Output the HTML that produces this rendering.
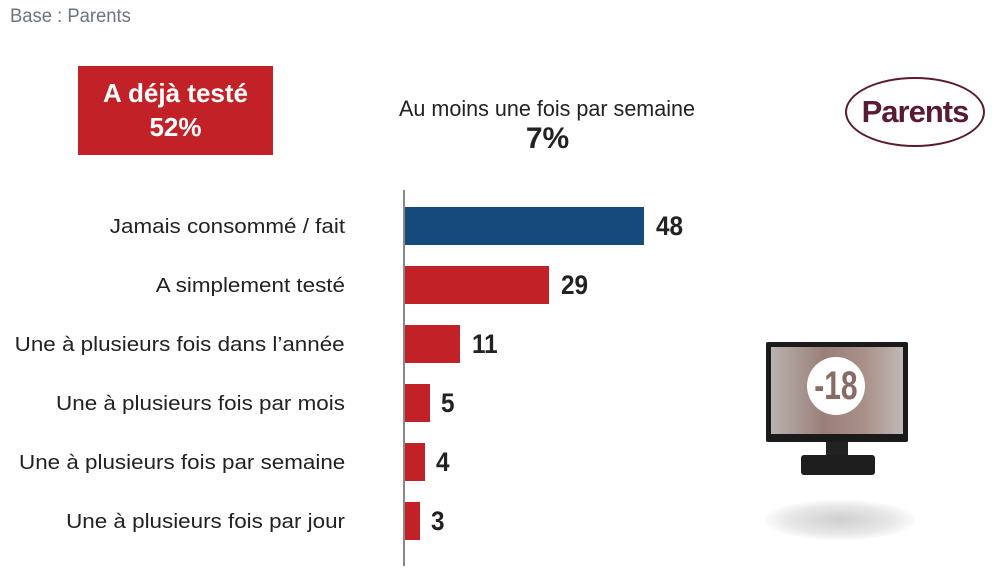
<!DOCTYPE html>
<html><head><meta charset="utf-8"><style>
body{margin:0;width:995px;height:571px;background:#fff;position:relative;overflow:hidden;font-family:"Liberation Sans",sans-serif}
.a{position:absolute}
.lbl{position:absolute;right:650px;font-size:20px;color:#222;white-space:nowrap;line-height:22px;transform:scaleX(1.12);transform-origin:right}
.bar{position:absolute;left:405px;height:38px;background:#c12127}
.num{position:absolute;font-size:27px;font-weight:bold;color:#222;line-height:28px;transform:scaleX(.9);transform-origin:left}
</style></head><body>
<div class="a" style="left:10px;top:6px;font-size:19px;color:#6b7480;transform:scaleX(.97);transform-origin:left">Base : Parents</div>
<div class="a" style="left:78px;top:66px;width:195px;height:89px;background:#c12127;color:#fff;font-weight:bold;font-size:26px;text-align:center;line-height:34px;padding-top:10px;box-sizing:border-box">A déjà testé<br>52%</div>
<div class="a" style="left:380px;top:94px;width:335px;text-align:center;font-size:22px;color:#222;line-height:30px"><span style="display:inline-block;transform:scaleX(.98)">Au moins une fois par semaine</span><br><b style="font-size:30px">7%</b></div>
<div class="a" style="left:845px;top:77px;width:136px;height:66px;border:2px solid #5a1a33;border-radius:50%;text-align:center;line-height:66px;font-size:31px;font-weight:bold;color:#5a1a33;letter-spacing:-1px">Parents</div>
<div class="a" style="left:403px;top:190px;width:2px;height:376px;background:#888"></div>
<div class="lbl" style="top:216px">Jamais consommé / fait</div>
<div class="lbl" style="top:275px">A simplement testé</div>
<div class="lbl" style="top:334px">Une à plusieurs fois dans l’année</div>
<div class="lbl" style="top:393px">Une à plusieurs fois par mois</div>
<div class="lbl" style="top:452px">Une à plusieurs fois par semaine</div>
<div class="lbl" style="top:511px">Une à plusieurs fois par jour</div>
<div class="bar" style="top:207px;width:239px;background:#164a7c"></div><div class="num" style="left:656px;top:212px">48</div>
<div class="bar" style="top:266px;width:144px"></div><div class="num" style="left:561px;top:271px">29</div>
<div class="bar" style="top:325px;width:55px"></div><div class="num" style="left:472px;top:330px">11</div>
<div class="bar" style="top:384px;width:25px"></div><div class="num" style="left:441px;top:389px">5</div>
<div class="bar" style="top:443px;width:20px"></div><div class="num" style="left:436px;top:448px">4</div>
<div class="bar" style="top:502px;width:15px"></div><div class="num" style="left:431px;top:507px">3</div>
<div class="a" style="left:765px;top:500px;width:150px;height:40px;border-radius:50%;background:radial-gradient(ellipse,#cfcfcf 0%,#e8e8e8 50%,#fff 75%)"></div>
<div class="a" style="left:766px;top:342px;width:142px;height:100px;background:#1a1a1a;border-radius:2px"></div>
<div class="a" style="left:771px;top:347px;width:132px;height:87px;background:linear-gradient(90deg,#b9b2b0,#9a7f78 40%,#a89088 70%,#c0b8b5)"></div>
<div class="a" style="left:807px;top:357px;width:58px;height:58px;border-radius:50%;background:#fff;text-align:center;line-height:58px;font-size:40px;font-weight:bold;color:#8a6a64"><span style="display:inline-block;transform:scaleX(.75)">-18</span></div>
<div class="a" style="left:826px;top:442px;width:22px;height:14px;background:#222"></div>
<div class="a" style="left:801px;top:455px;width:74px;height:20px;background:#1e1e1e;border-radius:3px"></div>
</body></html>
